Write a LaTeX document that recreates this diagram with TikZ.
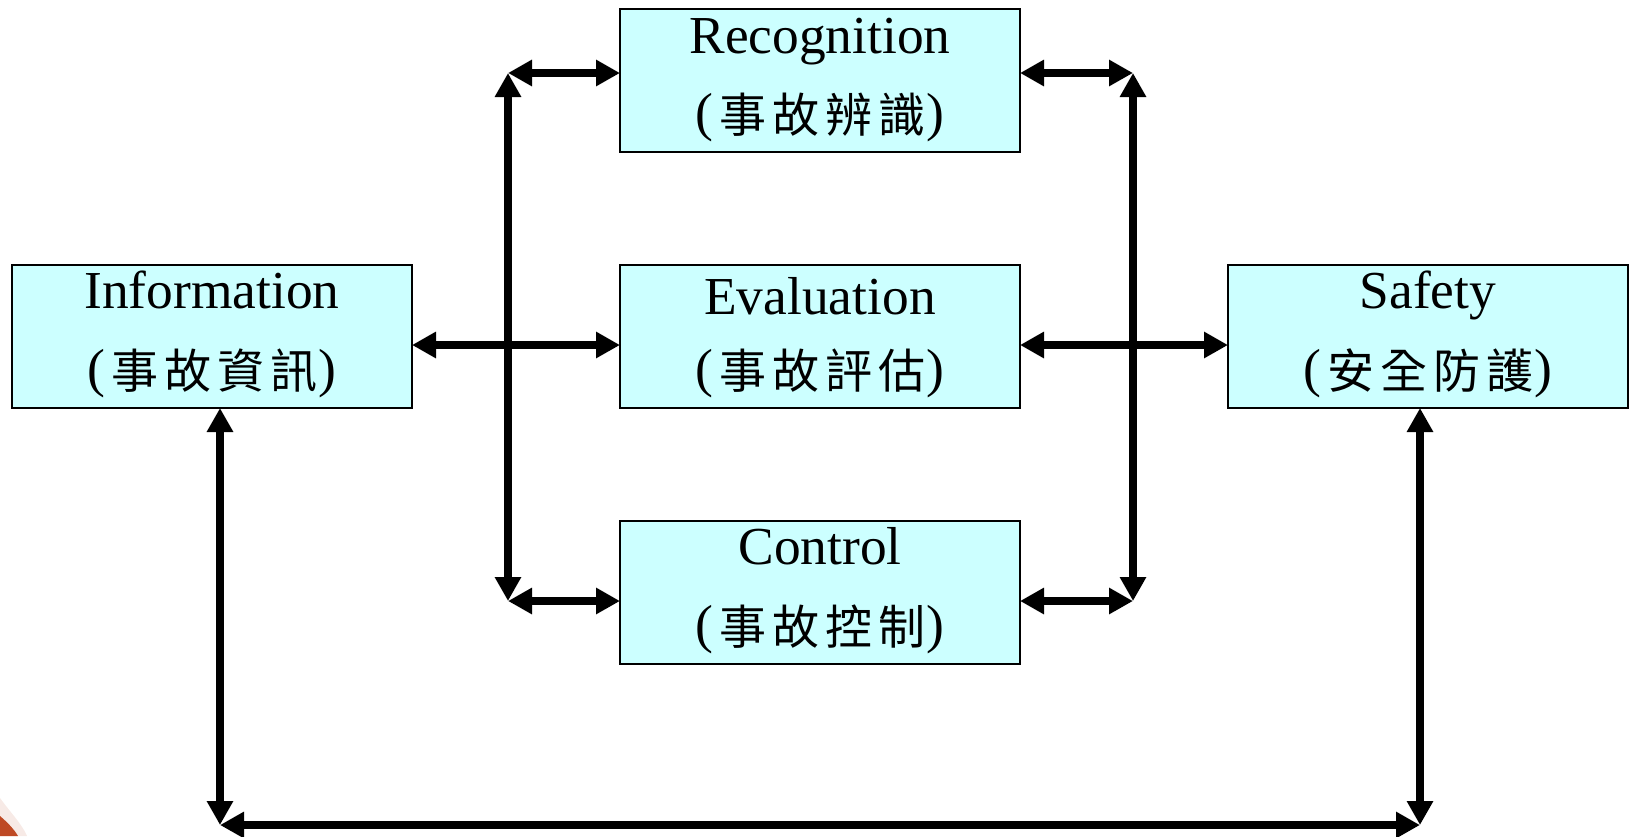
\documentclass[tikz,border=0pt]{standalone}
\usepackage{fontspec}
\setmainfont{Liberation Serif}
\newfontfamily\cjk[LetterSpace=13]{Noto Sans CJK TC}
\usetikzlibrary{arrows.meta}
\definecolor{boxfill}{HTML}{CCFFFF}
\definecolor{blobred}{HTML}{B8380F}
\tikzset{
  x=1pt,y=-1pt,
  procbox/.style={draw=black,line width=2pt,fill=boxfill,minimum width=400pt,minimum height=143pt,inner sep=0pt,outer sep=0pt},
  title/.style={font=\fontsize{53.4}{53.4}\selectfont,inner sep=0pt,anchor=base},
  sub/.style={font=\fontsize{53.6}{53.6}\selectfont,inner sep=0pt,anchor=base},
  link/.style={line width=8pt,{Triangle[length=24pt,width=25pt]}-{Triangle[length=24pt,width=25pt]}}
}
\newcommand{\zh}[1]{(\hspace{6pt}\raisebox{-2pt}{\fontsize{47}{47}\selectfont\cjk #1}\hspace{1pt})}
\begin{document}
\begin{tikzpicture}
\useasboundingbox (0,0) rectangle (1635,836);
\fill[white] (0,0) rectangle (1635,836);
\fill[blobred,opacity=.1] (0,798) .. controls (10,812) and (22,824) .. (27,836) -- (0,836) -- cycle;
\fill[blobred,opacity=.9] (0,816) .. controls (7,822) and (14,829) .. (18,836) -- (0,836) -- cycle;
\node[procbox] (rec) at (820,80.5) {};
\node[procbox] (eva) at (820,336.5) {};
\node[procbox] (ctl) at (820,592.5) {};
\node[procbox] (inf) at (212,336.5) {};
\node[procbox] (saf) at (1428,336.5) {};
\node[title] (t1) at (820,53) {Recognition};
\node[sub] (s1) at (820,130) {\zh{事故辨識}};
\node[title] (t2) at (820,314) {Evaluation};
\node[sub] (s2) at (820,386) {\zh{事故評估}};
\node[title] (t3) at (820,564.5) {Control};
\node[sub] (s3) at (820,642) {\zh{事故控制}};
\node[title] (t4) at (212,308.5) {Information};
\node[sub] (s4) at (212,386) {\zh{事故資訊}};
\node[title] (t5) at (1428,308.5) {Safety};
\node[sub] (s5) at (1428,386) {\zh{安全防護}};
\coordinate (lt) at (508,73);
\coordinate (lb) at (508,601);
\coordinate (rt) at (1133,73);
\coordinate (rb) at (1133,601);
\coordinate (mid) at (0,345);
\coordinate (bl) at (220,825);
\coordinate (br) at (1420,825);
\draw[link] (lt) -- (lb);
\draw[link] (rt) -- (rb);
\draw[link] (lt) -- (lt -| rec.west);
\draw[link] (lb) -- (lb -| ctl.west);
\draw[link] (rt) -- (rt -| rec.east);
\draw[link] (rb) -- (rb -| ctl.east);
\draw[link] (mid -| inf.east) -- (mid -| eva.west);
\draw[link] (mid -| eva.east) -- (mid -| saf.west);
\draw[link] (bl |- inf.south) -- (bl);
\draw[link] (br |- saf.south) -- (br);
\draw[link] (bl) -- (br);
\end{tikzpicture}
\end{document}
